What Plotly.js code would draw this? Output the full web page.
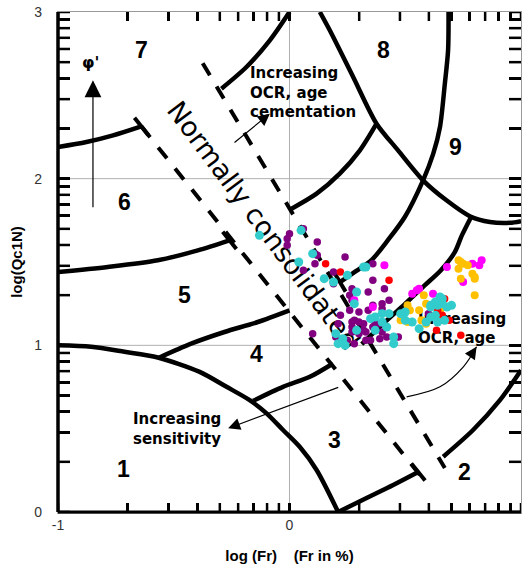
<!DOCTYPE html>
<html><head><meta charset="utf-8">
<script src="https://cdn.plot.ly/plotly-3.0.1.min.js"></script>
<style>html,body{margin:0;padding:0;background:#fff}#chart{width:522px;height:576px}</style>
</head><body><div id="chart"></div>
<script>
const FONT = 'Liberation Sans, Arial, sans-serif';
const TFONT = 'DejaVu Sans, sans-serif';

// axis ticks
const xMajor = [-1, 0, 1];
const yMajor = [0, 1, 2, 3];
const minorMult = [1, 2, 3, 4, 5, 6, 7, 8, 9];
const xDecades = [-1, 0];
const yDecades = [0, 1, 2];
const xGrid = [0];
const yGrid = [1, 2];

// zone boundary curves (log Fr, log Qc1N)
const zone1X = [-1.0, -0.857, -0.713, -0.569, -0.388, -0.272, -0.172, -0.099, -0.028, 0.044, 0.117, 0.21];
const zone1Y = [1.0, 0.991, 0.961, 0.927, 0.841, 0.751, 0.671, 0.592, 0.492, 0.391, 0.252, 0.0];
const zone2LowX = [0.21, 0.333, 0.448, 0.556];
const zone2LowY = [0.0, 0.084, 0.162, 0.240];
const zone2UpX = [0.664, 0.793, 0.909, 1.0];
const zone2UpY = [0.332, 0.492, 0.671, 0.85];
const b67LeftX = [-1.0, -0.877, -0.762, -0.640];
const b67LeftY = [2.19, 2.22, 2.26, 2.314];
const b67RightX = [-0.294, -0.186, -0.085, 0.0];
const b67RightY = [2.54, 2.67, 2.83, 3.0];
const b56LeftX = [-1.0, -0.785, -0.569, -0.396, -0.259];
const b56LeftY = [1.44, 1.47, 1.51, 1.57, 1.63];
const b56RightX = [0.009, 0.117, 0.217, 0.304, 0.376];
const b56RightY = [1.82, 1.91, 2.03, 2.17, 2.33];
const b45LeftX = [-0.562, -0.425, -0.281, -0.137, 0.0];
const b45LeftY = [0.927, 1.01, 1.08, 1.14, 1.21];
const b34LeftX = [-0.157, -0.028, 0.088, 0.188];
const b34LeftY = [0.667, 0.751, 0.811, 0.891];
const b34RightX = [0.312, 0.412, 0.498, 0.585, 0.654, 0.714, 0.745, 0.784];
const b34RightY = [1.007, 1.139, 1.247, 1.361, 1.451, 1.559, 1.661, 1.769];
const b89X = [0.218, 0.287, 0.354, 0.425, 0.498, 0.577, 0.621, 0.650, 0.671, 0.685, 0.687];
const b89Y = [1.379, 1.445, 1.511, 1.631, 1.770, 1.990, 2.150, 2.310, 2.570, 2.770, 3.0];
const zone9LowX = [0.131, 0.174, 0.275, 0.376, 0.469, 0.577, 0.678, 0.779, 0.866, 0.952, 1.0];
const zone9LowY = [3.0, 2.89, 2.61, 2.33, 2.17, 1.99, 1.87, 1.775, 1.74, 1.735, 1.745];

// normally consolidated band (dashed)
const ncLeftX = [-0.640, 0.563];
const ncLeftY = [2.314, 0.222];
const ncRightX = [-0.375, 0.671];
const ncRightY = [2.692, 0.264];
// boundary ends marked with a bar on the band
const tMarkX = [-0.640, -0.259, 0.218, 0.556];
const tMarkY = [2.314, 1.63, 1.379, 0.240];
const tMarkEdge = ['left', 'left', 'right', 'left'];

// data series
const purpleX = [0.00, 0.06, -0.01, -0.01, 0.12, 0.12, 0.24, 0.11, 0.06, 0.19, 0.19, 0.27, 0.27, 0.26, 0.22, 0.21, 0.27, 0.27, 0.20, 0.25, 0.10, 0.36, 0.36, 0.41, 0.34, 0.34, 0.40, 0.43, 0.36, 0.30, 0.32, 0.33, 0.39, 0.45, 0.40, 0.39, 0.30, 0.35, 0.42, 0.47, 0.60, 0.28, 0.11, 0.26, 0.32, 0.37, 0.40, 0.28, 0.30, 0.36, 0.33, 0.27];
const purpleY = [1.67, 1.70, 1.64, 1.60, 1.62, 1.54, 1.53, 1.49, 1.45, 1.44, 1.37, 1.34, 1.27, 1.21, 1.18, 1.13, 1.14, 1.08, 1.05, 1.03, 1.07, 1.49, 1.39, 1.34, 1.32, 1.21, 1.22, 1.27, 1.11, 1.14, 1.09, 1.03, 1.04, 1.05, 1.25, 1.13, 1.07, 1.03, 1.05, 1.05, 1.19, 1.01, 1.55, 1.30, 1.13, 1.13, 1.08, 1.15, 1.20, 1.24, 1.08, 1.11];
const magentaX = [0.41, 0.28, 0.36, 0.53, 0.55, 0.56, 0.62, 0.68, 0.79, 0.83, 0.82, 0.75];
const magentaY = [1.48, 1.27, 1.23, 1.31, 1.33, 1.34, 1.31, 1.47, 1.49, 1.51, 1.48, 1.38];
const yellowX = [0.73, 0.74, 0.75, 0.77, 0.73, 0.79, 0.80, 0.80, 0.74, 0.80, 0.58, 0.51, 0.59, 0.56, 0.52, 0.48, 0.51, 0.57, 0.65, 0.59];
const yellowY = [1.51, 1.50, 1.49, 1.48, 1.46, 1.43, 1.41, 1.40, 1.40, 1.30, 1.30, 1.24, 1.25, 1.21, 1.21, 1.15, 1.14, 1.15, 1.21, 1.13];
const redX = [0.156, 0.22, 0.43, 0.67, 0.66, 0.69, 0.64, 0.68, 0.74, 0.635];
const redY = [1.49, 1.44, 1.39, 1.28, 1.18, 1.15, 1.21, 1.23, 1.06, 1.09];
const cyanX = [-0.13, 0.05, 0.10, 0.04, 0.15, 0.19, 0.25, 0.32, 0.33, 0.29, 0.28, 0.29, 0.21, 0.24, 0.23, 0.37, 0.43, 0.40, 0.35, 0.45, 0.45, 0.37, 0.42, 0.40, 0.48, 0.50, 0.53, 0.50, 0.61, 0.63, 0.66, 0.70, 0.68, 0.61, 0.64, 0.66, 0.65, 0.61, 0.63, 0.64, 0.59, 0.56, 0.67, 0.20];
const cyanY = [1.66, 1.69, 1.55, 1.50, 1.40, 1.38, 1.42, 1.47, 1.47, 1.32, 1.25, 1.09, 1.01, 1.00, 1.04, 1.17, 1.19, 1.14, 1.16, 1.01, 1.05, 1.09, 1.11, 1.19, 1.19, 1.15, 1.14, 1.20, 1.24, 1.26, 1.28, 1.24, 1.23, 1.23, 1.24, 1.25, 1.29, 1.17, 1.18, 1.14, 1.14, 1.10, 1.15, 1.07];

// zone numbers
const zoneText = ['1', '2', '3', '4', '5', '6', '7', '8', '9'];
const zoneX = [-0.719, 0.758, 0.196, -0.143, -0.454, -0.712, -0.640, 0.405, 0.719];
const zoneY = [0.260, 0.242, 0.432, 0.951, 1.301, 1.859, 2.772, 2.770, 2.190];

// text blocks
const upperOCRText = 'Increasing<br>OCR, age<br>cementation';
const upperOCRX = -0.180, upperOCRY = 2.516;
const lowerOCRText = 'Increasing<br>OCR, age';
const lowerOCRX = 0.555, lowerOCRY = 1.094;
const sensText = 'Increasing<br>sensitivity';
const sensX = -0.683, sensY = 0.497;
const ncText = 'Normally consolidated';
const ncTextX = [-0.494, 0.285];
const ncTextY = [2.451, 1.000];
const phiText = "φ'";
const phiX = -0.859, phiY = 2.698;

// arrows: [tailX, tailY, tipX, tipY]
const phiArrow = [-0.849, 1.82, -0.849, 2.59];
const upperOCRArrow = [-0.244, 2.21, -0.085, 2.39];
const sensArrow = [0.217, 0.751, -0.265, 0.502];
const lowerOCRCurveX = [0.506, 0.650, 0.751, 0.808];
const lowerOCRCurveY = [0.691, 0.751, 0.871, 0.991];

// ---- build ----
const pxX = 463 / 2, pxY = 500.5 / 3;   // screen pixels per data unit (for bar orientation / tick length)
const xLog = [], yLog = [];
xDecades.forEach(d => minorMult.forEach(k => xLog.push(d + Math.log10(k))));
xLog.push(1);
yDecades.forEach(d => minorMult.forEach(k => yLog.push(d + Math.log10(k))));
yLog.push(3);
const isMajor = (v, majors) => majors.some(m => Math.abs(m - v) < 1e-9);
const NB = '\u00a0';
const xLogText = xLog.map(v => isMajor(v, xMajor) ? String(Math.round(v)) : '');
const yLogText = yLog.map(v => isMajor(v, yMajor) ? String(Math.round(v)) + NB + NB + NB : '');

const traces = [];
function curve(xs, ys, extra) {
  traces.push(Object.assign({
    type: 'scatter', mode: 'lines', x: xs, y: ys, hoverinfo: 'skip', showlegend: false,
    line: {color: '#000', width: 4.5, shape: 'spline', smoothing: 0.8}
  }, extra || {}));
}

// tick marks as a line trace too (inside the frame, all four sides)
const xTickLen = 9 / pxY, yTickLen = 12 / pxX;
const tickX = [], tickY = [];
xLog.forEach(v => { tickX.push(v, v, null, v, v, null); tickY.push(0, xTickLen, null, 3, 3 - xTickLen, null); });
yLog.forEach(v => { tickX.push(-1, -1 + yTickLen, null, 1, 1 - yTickLen, null); tickY.push(v, v, null, v, v, null); });
traces.push({type: 'scatter', mode: 'lines', x: tickX, y: tickY, hoverinfo: 'skip', showlegend: false,
  line: {color: '#000', width: 2.5}});

[[zone1X, zone1Y], [zone2LowX, zone2LowY], [zone2UpX, zone2UpY], [b67LeftX, b67LeftY], [b67RightX, b67RightY],
 [b56LeftX, b56LeftY], [b56RightX, b56RightY], [b45LeftX, b45LeftY], [b34LeftX, b34LeftY], [b34RightX, b34RightY],
 [b89X, b89Y], [zone9LowX, zone9LowY]].forEach(c => curve(c[0], c[1]));

curve(ncLeftX, ncLeftY, {line: {color: '#000', width: 4, dash: '14px,13px'}});
curve(ncRightX, ncRightY, {line: {color: '#000', width: 4, dash: '14px,13px'}});

function edgeDir(xs, ys) {
  const dx = (xs[1] - xs[0]) * pxX, dy = (ys[1] - ys[0]) * pxY;
  const n = Math.hypot(dx, dy);
  return [dx / n, dy / n];
}
const dirs = {left: edgeDir(ncLeftX, ncLeftY), right: edgeDir(ncRightX, ncRightY)};
tMarkX.forEach((tx, i) => {
  const d = dirs[tMarkEdge[i]], h = 11;
  curve([tx - d[0] * h / pxX, tx + d[0] * h / pxX], [tMarkY[i] - d[1] * h / pxY, tMarkY[i] + d[1] * h / pxY],
        {line: {color: '#000', width: 4}});
});

curve(lowerOCRCurveX, lowerOCRCurveY, {line: {color: '#000', width: 1.2, shape: 'spline'}});

// text lying under the points
traces.push({
  type: 'scatter', mode: 'text', x: [lowerOCRX], y: [lowerOCRY], text: [lowerOCRText],
  textposition: 'middle right', hoverinfo: 'skip', showlegend: false,
  textfont: {family: TFONT, size: 15, color: '#000', weight: 'bold'}
});

function pts(xs, ys, color, size) {
  traces.push({type: 'scatter', mode: 'markers', x: xs, y: ys, hoverinfo: 'skip', showlegend: false,
    marker: {color: color, size: size, line: {width: 0}}});
}
pts(purpleX, purpleY, '#800080', 7.5);
pts(magentaX, magentaY, '#FF00FF', 8);
pts(yellowX, yellowY, '#FFC000', 8);
pts(redX, redY, '#FF0000', 7.5);
pts(cyanX, cyanY, '#33CCCC', 9);

const annotations = [];
zoneText.forEach((t, i) => annotations.push({x: zoneX[i], y: zoneY[i], xref: 'x', yref: 'y', text: t, showarrow: false,
  font: {family: FONT, size: 23, color: '#000', weight: 'bold'}}));
function block(t, x, y) {
  annotations.push({x: x, y: y, xref: 'x', yref: 'y', text: t, showarrow: false, align: 'left',
    xanchor: 'left', yanchor: 'middle', font: {family: TFONT, size: 15, color: '#000', weight: 'bold'}});
}
block(upperOCRText, upperOCRX, upperOCRY);
block(sensText, sensX, sensY);
annotations.push({x: phiX, y: phiY, xref: 'x', yref: 'y', text: phiText, showarrow: false,
  font: {family: TFONT, size: 16, color: '#000', weight: 'bold'}});
function arrow(a, size) {
  annotations.push({x: a[2], y: a[3], ax: a[0], ay: a[1], xref: 'x', yref: 'y', axref: 'x', ayref: 'y', text: '',
    showarrow: true, arrowhead: 2, arrowsize: size, arrowwidth: 1.2, arrowcolor: '#000', standoff: 0});
}
arrow(phiArrow, 2.8);
arrow(upperOCRArrow, 2);
arrow(sensArrow, 2);
const n = lowerOCRCurveX.length;
arrow([(lowerOCRCurveX[n - 2] + 3 * lowerOCRCurveX[n - 1]) / 4, (lowerOCRCurveY[n - 2] + 3 * lowerOCRCurveY[n - 1]) / 4,
       lowerOCRCurveX[n - 1], lowerOCRCurveY[n - 1]], 2);

const gridStyle = {color: '#b0b0b0', width: 1};
const shapes = [
  {type: 'line', xref: 'x', yref: 'y', x0: ncTextX[0], y0: ncTextY[0], x1: ncTextX[1], y1: ncTextY[1], layer: 'below',
   line: {color: 'rgba(0,0,0,0)', width: 1},
   label: {text: ncText, textangle: 'auto', textposition: 'middle', xanchor: 'center', yanchor: 'middle',
           font: {family: TFONT, size: 27, color: '#000'}}}
];
xGrid.forEach(v => shapes.push({type: 'line', xref: 'x', yref: 'paper', x0: v, x1: v, y0: 0, y1: 1, layer: 'below', line: gridStyle}));
yGrid.forEach(v => shapes.push({type: 'line', xref: 'paper', yref: 'y', x0: 0, x1: 1, y0: v, y1: v, layer: 'below', line: gridStyle}));
shapes.push({type: 'line', xref: 'paper', yref: 'paper', x0: 0, x1: 0, y0: 0, y1: 1, layer: 'above', line: {color: '#000', width: 3.5}});
shapes.push({type: 'line', xref: 'paper', yref: 'paper', x0: 0, x1: 1, y0: 0, y1: 0, layer: 'above', line: {color: '#000', width: 3}});

const axCommon = {
  ticks: 'inside', tickwidth: 2.5, tickcolor: '#000', showline: true, linecolor: '#999', linewidth: 1.5,
  mirror: 'ticks', showgrid: false, zeroline: false,
  tickfont: {family: FONT, size: 14, color: '#333'}
};
const layout = {
  width: 522, height: 576, margin: {l: 58, r: 1, t: 12, b: 64},
  paper_bgcolor: '#fff', plot_bgcolor: '#fff', showlegend: false,
  xaxis: Object.assign({}, axCommon, {range: [-1, 1], tickmode: 'array', tickvals: xLog, ticktext: xLogText, ticklen: 9,
    title: {text: '<b>log (Fr)\u00a0\u00a0\u00a0\u00a0(Fr in %)</b>', font: {family: FONT, size: 15, color: '#000'}, standoff: 18}}),
  yaxis: Object.assign({}, axCommon, {range: [0, 3], tickmode: 'array', tickvals: yLog, ticktext: yLogText, ticklen: 12,
    title: {text: '<b>log(Qc1N)</b>', font: {family: FONT, size: 15, color: '#000'}, standoff: 8}}),
  shapes: shapes,
  annotations: annotations
};
Plotly.newPlot('chart', traces, layout, {staticPlot: true, displayModeBar: false});
</script></body></html>
